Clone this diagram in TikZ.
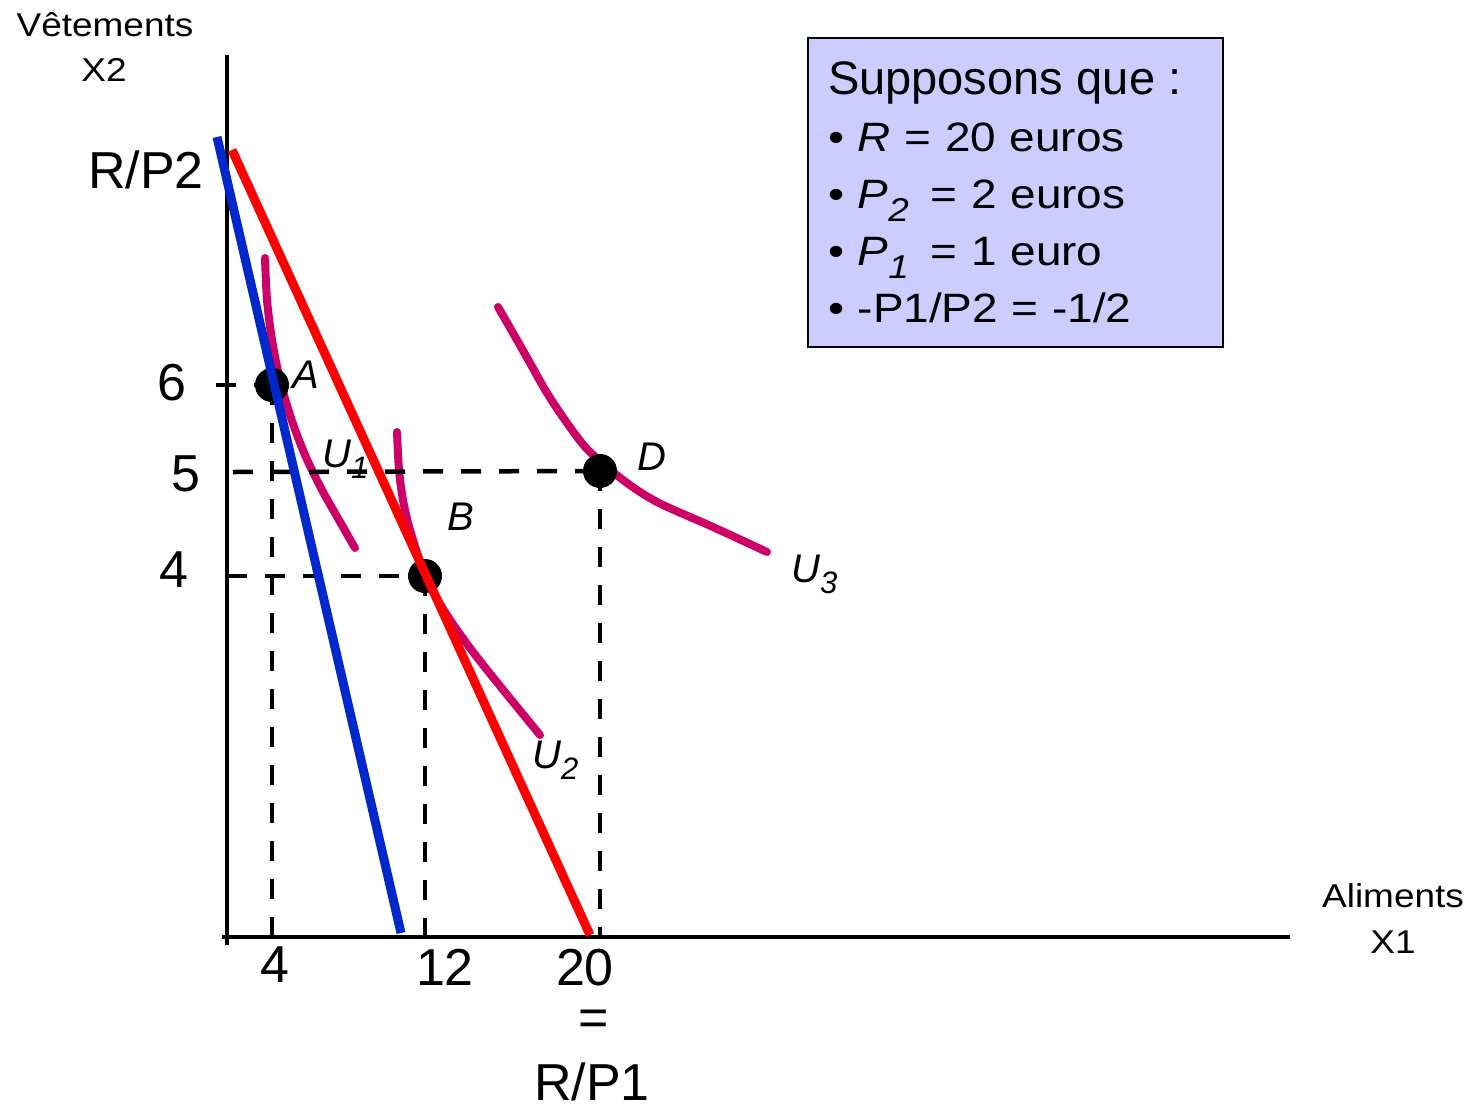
\documentclass[tikz,border=0pt]{standalone}
\usepackage{fontspec}
\setmainfont{Liberation Sans}
\newfontfamily\wideface{Liberation Sans}[FakeStretch=1.12]
\usetikzlibrary{positioning}

\definecolor{budgetblue}{RGB}{0,40,204}
\definecolor{curvepink}{RGB}{204,0,102}
\definecolor{boxlilac}{RGB}{204,204,255}

\newcommand{\bigtxt}{\fontsize{52}{60}\selectfont}
\newcommand{\axtxt}{\wideface\fontsize{33}{46}\selectfont}
\newcommand{\pttxt}{\fontsize{40}{48}\selectfont\itshape}
\newcommand{\lowsub}[1]{\raisebox{-11pt}{\fontsize{31}{31}\selectfont #1}}
\newcommand{\boxsub}[1]{\raisebox{-13pt}{\fontsize{33}{33}\selectfont #1}}

\tikzset{
  axisline/.style={black,line width=4.5pt},
  guide/.style={black,line width=4.5pt,dash pattern=on 20pt off 18pt},
  pref/.style={curvepink,line width=8pt,line cap=round},
  budget/.style={line width=9pt},
  optpt/.style={circle,fill=black,inner sep=0pt,minimum size=34pt},
  biglab/.style={font=\bigtxt,anchor=base},
  axlab/.style={font=\axtxt,anchor=base},
  ptlab/.style={font=\pttxt,anchor=base},
  hypbox/.style={draw,line width=2pt,fill=boxlilac,anchor=north west,
    minimum width=415pt,minimum height=309pt,text width=375pt,
    inner xsep=20pt,align=left,font=\wideface\fontsize{41}{57}\selectfont},
}

\begin{document}
\begin{tikzpicture}[x=1pt,y=-1pt]
  \useasboundingbox (0,0) rectangle (1473,1109);

  % axes
  \draw[axisline] (227,55) -- (227,945);
  \draw[axisline] (222,937) -- (1290,937);
  \node[axlab] (vet) at (105,36) {Vêtements};
  \node[axlab] (x2) at (104,81) {X2};
  \node[axlab] (ali) at (1393,907) {Aliments};
  \node[axlab] (x1) at (1393,953) {X1};

  % indifference curves
  \draw[pref] plot[smooth] coordinates {(265,258) (267,300) (272,340) (280,380)
    (291,418) (305,455) (322,490) (339,520) (355,548)};
  \draw[pref] plot[smooth] coordinates {(397,432) (399,470) (403,500) (410,530)
    (425,575) (445,612) (470,648) (500,686) (540,735)};
  \draw[pref] plot[smooth] coordinates {(498,307) (513,333) (530,363) (547,393)
    (567,423) (588,450) (623,480) (657,502) (713,527) (767,552)};

  % baskets
  \node[optpt] (A) at (272,385) {};
  \node[optpt] (B) at (425,576) {};
  \node[optpt] (D) at (600,471) {};

  % guides to the axes
  \draw[guide] (216,385) -- (A.center);
  \draw[guide] (233,472) -- (D.center);
  \draw[guide] (227,576) -- (B.center);
  \foreach \p in {A,B,D} \draw[guide] (\p.center) -- (\p.center |- 0,937);

  % budget lines
  \draw[budget,budgetblue] (217,137) -- (401,933);
  \draw[budget,red] (232,150) -- (590,935);

  % labels
  \node[biglab] (rp2) at (146,188) {R/P2};
  \node[biglab] (y6) at (172,400) {6};
  \node[biglab] (y5) at (186,491) {5};
  \node[biglab] (y4) at (174,587) {4};
  \node[biglab] (x4) at (275,982) {4};
  \node[biglab] (x12) at (445,985) {12};
  \node[biglab] (x20) at (585,985) {20};
  \node[font=\bigtxt] (eq) at (594,1023) {=};
  \node[biglab] (rp1) at (592,1100) {R/P1};

  \node[ptlab] (labA) at (306,388) {A};
  \node[ptlab] (labB) at (461,530) {B};
  \node[ptlab] (labD) at (652,470) {D};
  \node[ptlab,anchor=base west,inner sep=0pt] (labU1) at (322,467) {U\lowsub{1}};
  \node[ptlab,anchor=base west,inner sep=0pt] (labU2) at (532,768) {U\lowsub{2}};
  \node[ptlab,anchor=base west,inner sep=0pt] (labU3) at (791,582) {U\lowsub{3}};

  % hypotheses
  \node[hypbox] (hyp) at (807,37)
    {{\rmfamily\fontsize{47}{57}\selectfont Supposons que :}\\
     \textbullet\ \textit{R} = 20 euros\\
     \textbullet\ \textit{P}\boxsub{\textit{2}}\hspace{22pt}= 2 euros\\
     \textbullet\ \textit{P}\boxsub{\textit{1}}\hspace{22pt}= 1 euro\\
     \textbullet\ -P1/P2 = -1/2};
\end{tikzpicture}
\end{document}
